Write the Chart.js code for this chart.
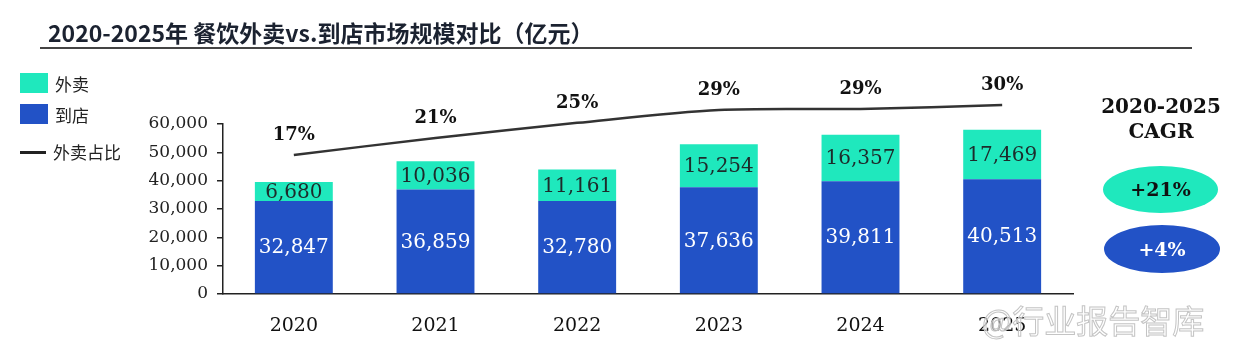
<!DOCTYPE html>
<html>
<head>
<meta charset="utf-8">
<script src="https://cdn.jsdelivr.net/npm/chart.js@4"></script>
<style>
  body { margin: 0; background: #fff; }
  #wrap { position: relative; width: 1242px; height: 354px; overflow: hidden; font-family: "Noto Sans CJK SC", "Noto Sans", sans-serif; }
  #chart { position: absolute; left: 0; top: 0; }
  .abs { position: absolute; white-space: nowrap; }
  #title { left: 48px; top: 15px; font-size: 23px; font-weight: 700; color: #1b2230; line-height: 34px; }
  #rule { left: 40px; top: 47px; width: 1152px; height: 2px; background: #444; }
  .sw { width: 28px; height: 20px; }
  .lg { font-size: 17px; color: #222; line-height: 20px; }
  .cagr { font-family: "DejaVu Serif", serif; font-weight: 700; font-size: 20px; color: #111; text-align: center; width: 150px; left: 1086px; }
  .ell { border-radius: 50%; text-align: center; font-family: "DejaVu Serif", serif; font-weight: 700; font-size: 19px; }
  #wm { left: 982px; top: 296px; font-size: 32px; color: rgba(255,255,255,0.6); -webkit-text-stroke: 1px #c4c4c4; }
</style>
</head>
<body>
<div id="wrap">
  <canvas id="chart" width="1242" height="354"></canvas>
  <div id="title" class="abs">2020-2025年 餐饮外卖vs.到店市场规模对比（亿元）</div>
  <div id="rule" class="abs"></div>

  <div class="abs sw" style="left:20px;top:73px;background:#1fe8bd"></div>
  <div class="abs lg" style="left:55px;top:74px">外卖</div>
  <div class="abs sw" style="left:20px;top:104px;background:#2252c6"></div>
  <div class="abs lg" style="left:55px;top:105px">到店</div>
  <div class="abs" style="left:20px;top:151px;width:26px;height:3px;background:#222"></div>
  <div class="abs lg" style="left:53px;top:142px">外卖占比</div>

  <div class="abs cagr" style="top:94px">2020-2025</div>
  <div class="abs cagr" style="top:119px">CAGR</div>
  <div class="abs ell" style="left:1103px;top:166px;width:115px;height:47px;line-height:47px;background:#1fe8bd;color:#111">+21%</div>
  <div class="abs ell" style="left:1104px;top:225px;width:116px;height:48px;line-height:48px;background:#2252c6;color:#fff">+4%</div>

  <div id="wm" class="abs">@行业报告智库</div>
</div>
<script>
// categories and series
const years = ['2020', '2021', '2022', '2023', '2024', '2025'];
const dineIn = [32847, 36859, 32780, 37636, 39811, 40513];    // 到店
const delivery = [6680, 10036, 11161, 15254, 16357, 17469];   // 外卖
const deliveryShare = [16.9, 21.4, 25.4, 28.8, 29.1, 30.1];   // 外卖占比 (%)
const yTicks = [0, 10000, 20000, 30000, 40000, 50000, 60000];

const GREEN = '#1fe8bd';
const BLUE = '#2252c6';
const SERIF = '"DejaVu Serif", serif';

// Draws the numbers inside the bars and the share labels above the line
const labelPlugin = {
  id: 'labelPlugin',
  afterDatasetsDraw(chart) {
    const { ctx } = chart;
    ctx.save();
    ctx.textAlign = 'center';
    ctx.textBaseline = 'middle';
    chart.data.datasets.forEach((ds, i) => {
      const meta = chart.getDatasetMeta(i);
      meta.data.forEach((el, j) => {
        if (ds.type === 'line') {
          ctx.font = 'bold 18px ' + SERIF;
          ctx.fillStyle = '#111';
          ctx.fillText(Math.round(ds.data[j]) + '%', el.x, el.y - 20);
        } else {
          const mid = (el.y + el.base) / 2;
          ctx.font = '20px ' + SERIF;
          ctx.fillStyle = ds.labelColor;
          ctx.fillText(ds.data[j].toLocaleString('en-US'), el.x, mid + 1);
        }
      });
    });
    ctx.restore();
  }
};

new Chart(document.getElementById('chart'), {
  type: 'bar',
  data: {
    labels: years,
    datasets: [
      { label: '到店', data: dineIn, backgroundColor: BLUE, stack: 's', labelColor: '#fff', order: 1 },
      { label: '外卖', data: delivery, backgroundColor: GREEN, stack: 's', labelColor: '#1d2b2b', order: 2 },
      { type: 'line', label: '外卖占比', data: deliveryShare, yAxisID: 'y2', borderColor: '#333', borderWidth: 2.5,
        pointRadius: 0, tension: 0.3, clip: false, order: 0 }
    ]
  },
  options: {
    responsive: false,
    animation: false,
    devicePixelRatio: 1,
    categoryPercentage: 1,
    barPercentage: 0.55,
    layout: { padding: { top: 124, right: 169, left: 0, bottom: 0 } },
    scales: {
      x: {
        stacked: true,
        grid: { display: false },
        border: { display: true, color: '#222', width: 1.5 },
        ticks: { font: { family: SERIF, size: 19 }, color: '#111', padding: 13 },
        afterFit(s) { s.height = 60; }
      },
      y: {
        stacked: true,
        min: 0,
        max: 60000,
        afterBuildTicks(s) { s.ticks = yTicks.map(v => ({ value: v })); },
        grid: { display: true, drawOnChartArea: false, drawTicks: true, tickLength: 6, color: '#222', lineWidth: 1.5 },
        border: { display: true, color: '#222', width: 1.5 },
        ticks: { font: { family: SERIF, size: 17 }, color: '#222', padding: 9,
                 callback: v => v.toLocaleString('en-US') },
        afterFit(s) { s.width = 223; }
      },
      y2: { display: false, min: -19.9, max: 25.1 }
    },
    plugins: { legend: { display: false }, tooltip: { enabled: false } }
  },
  plugins: [labelPlugin]
});
</script>
</body>
</html>
